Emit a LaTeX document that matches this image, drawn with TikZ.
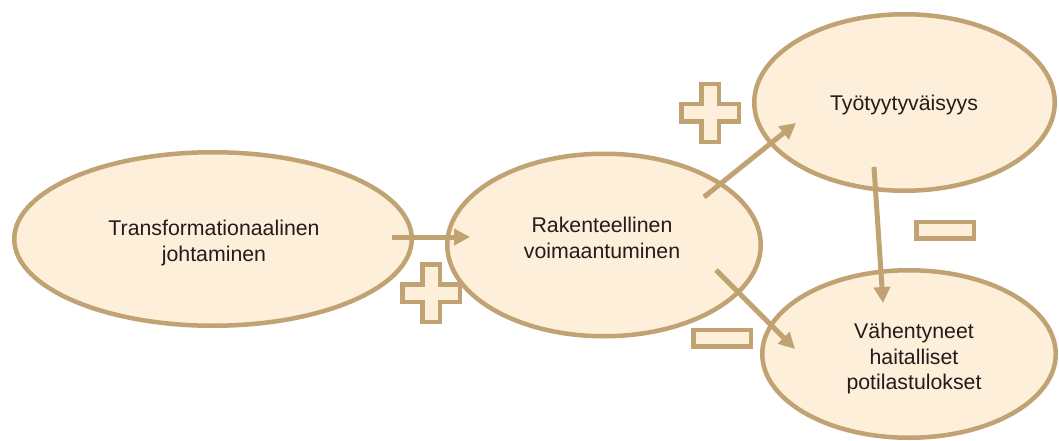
\documentclass[tikz,border=0pt]{standalone}
\usepackage{fontspec}
\setmainfont{Liberation Sans}
\usetikzlibrary{shapes.geometric,arrows.meta}
\definecolor{fillc}{RGB}{253,239,217}
\definecolor{linec}{RGB}{192,162,115}
\definecolor{textc}{RGB}{38,26,28}
\begin{document}
\begin{tikzpicture}[x=1pt,y=-1pt,
  oval/.style={ellipse, draw=linec, fill=fillc, line width=4.5pt, inner sep=0pt},
  txt/.style={inner sep=0pt, align=center, text=textc, font=\fontsize{21.3}{25.5}\selectfont},
  link/.style={draw=linec, line width=5pt, -{Triangle[length=16pt,width=16pt]}},
  sign/.style={draw=linec, fill=fillc, line width=4.5pt},
  plussign/.pic={\draw[sign] (-8.75,-28.75) -- (8.75,-28.75) -- (8.75,-8.75) -- (28.75,-8.75)
     -- (28.75,8.75) -- (8.75,8.75) -- (8.75,28.75) -- (-8.75,28.75) -- (-8.75,8.75)
     -- (-28.75,8.75) -- (-28.75,-8.75) -- (-8.75,-8.75) -- cycle;},
  minussign/.pic={\draw[sign] (-28.75,-8.25) rectangle (28.75,8.25);}]
\useasboundingbox (0,0) rectangle (1059,441);
\node[oval, minimum width=397.5pt, minimum height=173.5pt] (e1) at (213,239) {};
\node[oval, minimum width=313.5pt, minimum height=182.5pt] (e2) at (604,245) {};
\node[oval, minimum width=300.5pt, minimum height=176.5pt] (e3) at (904.5,102.5) {};
\node[oval, minimum width=293.5pt, minimum height=167.5pt] (e4) at (909,354) {};
\node[txt] (t1) at (214,243) {Transformationaalinen\\johtaminen};
\node[txt] (t2) at (602,238) {Rakenteellinen\\voimaantuminen};
\node[txt] (t3) at (904,105) {Työtyytyväisyys};
\node[txt] (t4) at (914,358.5) {Vähentyneet\\haitalliset\\potilastulokset};
\pic at (431,293) {plussign};
\pic at (710,113) {plussign};
\pic at (722,338) {minussign};
\pic at (945,230) {minussign};
\coordinate (a1s) at (392,237);
\coordinate (a1e) at (470,237);
\coordinate (a2s) at (704,197);
\coordinate (a2e) at (796,123);
\coordinate (a3s) at (716,270);
\coordinate (a3e) at (795,349);
\coordinate (a4s) at (874,167);
\coordinate (a4e) at (883,303);
\draw[link] (a1s) -- (a1e);
\draw[link] (a2s) -- (a2e);
\draw[link] (a3s) -- (a3e);
\draw[link] (a4s) -- (a4e);
\end{tikzpicture}
\end{document}
